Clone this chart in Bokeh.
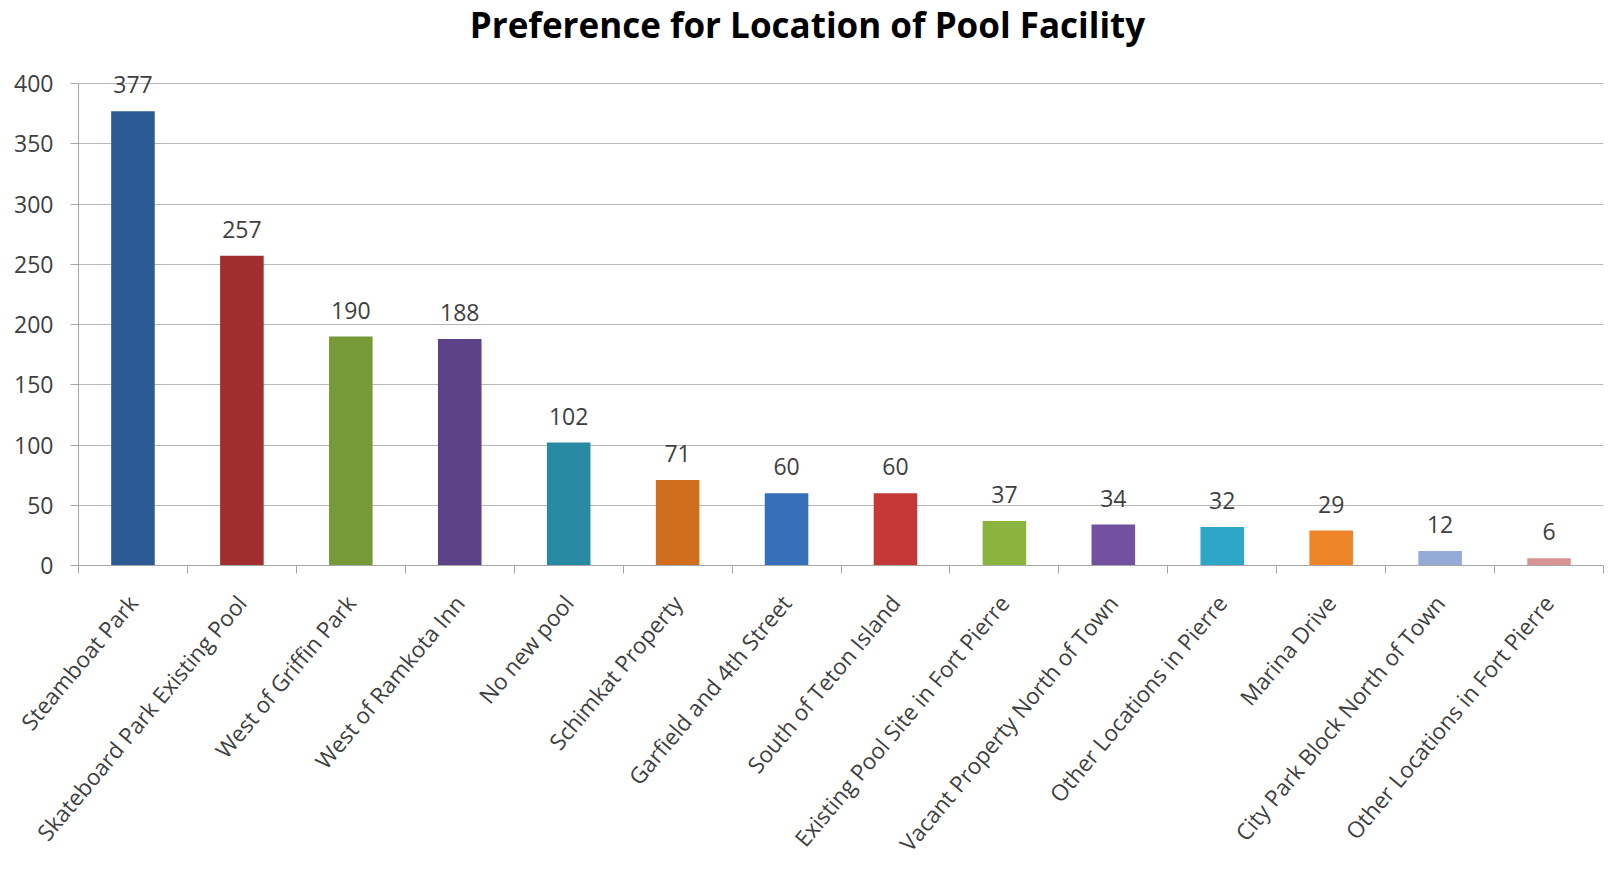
from bokeh.plotting import figure
from bokeh.models import Range1d, FixedTicker, ColumnDataSource, LabelSet, Label
from bokeh.core.properties import value
from bokeh.embed import file_html
from bokeh.resources import INLINE

categories = [
    "Steamboat Park",
    "Skateboard Park Existing Pool",
    "West of Griffin Park",
    "West of Ramkota Inn",
    "No new pool",
    "Schimkat Property",
    "Garfield and 4th Street",
    "South of Teton Island",
    "Existing Pool Site in Fort Pierre",
    "Vacant Property North of Town",
    "Other Locations in Pierre",
    "Marina Drive",
    "City Park Block North of Town",
    "Other Locations in Fort Pierre",
]
values = [377, 257, 190, 188, 102, 71, 60, 60, 37, 34, 32, 29, 12, 6]
colors = [
    "#2C5A94", "#A02E2E", "#779A38", "#5E4287", "#2889A2", "#D06E1E", "#376FB8",
    "#C63737", "#8AB43E", "#7450A0", "#2EA6C8", "#EE8428", "#93ABD6", "#D89494",
]
y_ticks = [0, 50, 100, 150, 200, 250, 300, 350, 400]
title_text = "Preference for Location of Pool Facility"

positions = list(range(1, len(categories) + 1))
source = ColumnDataSource(dict(
    x=positions,
    top=values,
    color=colors,
    label=[str(v) for v in values],
))

FONT = "Open Sans"
TXT = "#404040"

FRAME_H = 565          # frame spans page y 0..565
PX_PER_UNIT = 482 / 400  # 400 units over 482 px
Y_TOP = 400 + 83 / PX_PER_UNIT

p = figure(
    width=1608, height=870,
    x_range=Range1d(0.5, len(categories) + 0.5),
    y_range=Range1d(0, Y_TOP),
    output_backend="svg", toolbar_location=None,
    min_border_left=78, min_border_right=5, min_border_top=0, min_border_bottom=305,
)
p.outline_line_color = None
p.background_fill_color = "white"
p.border_fill_color = "white"

title = Label(x=729, y=FRAME_H - 24, x_units="screen", y_units="screen",
              text=title_text, text_align="center", text_baseline="alphabetic",
              text_font=FONT, text_font_style="bold", text_font_size="35px",
              text_color="#000000")
p.add_layout(title)

p.vbar(x="x", top="top", bottom=0, width=0.4, color="color", line_color=None, source=source)

labels = LabelSet(x="x", y="top", text="label", source=source, y_offset=18,
                  text_align="center", text_baseline="alphabetic",
                  text_font=value(FONT), text_font_size="23px", text_color=TXT)
p.add_layout(labels)

# x axis
xa = p.xaxis[0]
xa.ticker = FixedTicker(ticks=positions, minor_ticks=[i + 0.5 for i in range(len(categories) + 1)])
xa.major_label_overrides = {i: c for i, c in zip(positions, categories)}
xa.major_label_orientation = 0.873
xa.major_label_text_font = FONT
xa.major_label_text_font_size = "22.5px"
xa.major_label_text_color = TXT
xa.major_tick_line_color = None
xa.major_tick_out = 0
xa.major_tick_in = 0
xa.minor_tick_out = 8
xa.minor_tick_in = 0
xa.minor_tick_line_color = "#A6A6A6"
xa.axis_line_color = "#A6A6A6"
xa.major_label_standoff = 25

# y axis
ya = p.yaxis[0]
ya.ticker = FixedTicker(ticks=y_ticks)
ya.bounds = (0, 400)
ya.major_label_text_font = FONT
ya.major_label_text_font_size = "23px"
ya.major_label_text_color = TXT
ya.major_tick_out = 8
ya.major_tick_in = 0
ya.minor_tick_line_color = None
ya.major_tick_line_color = "#A6A6A6"
ya.axis_line_color = "#A6A6A6"
ya.major_label_standoff = 17

p.xgrid.grid_line_color = None
p.ygrid.grid_line_color = "#B8B8B8"
p.ygrid.ticker = FixedTicker(ticks=y_ticks)

open("out.html", "w").write(file_html(p, INLINE))
